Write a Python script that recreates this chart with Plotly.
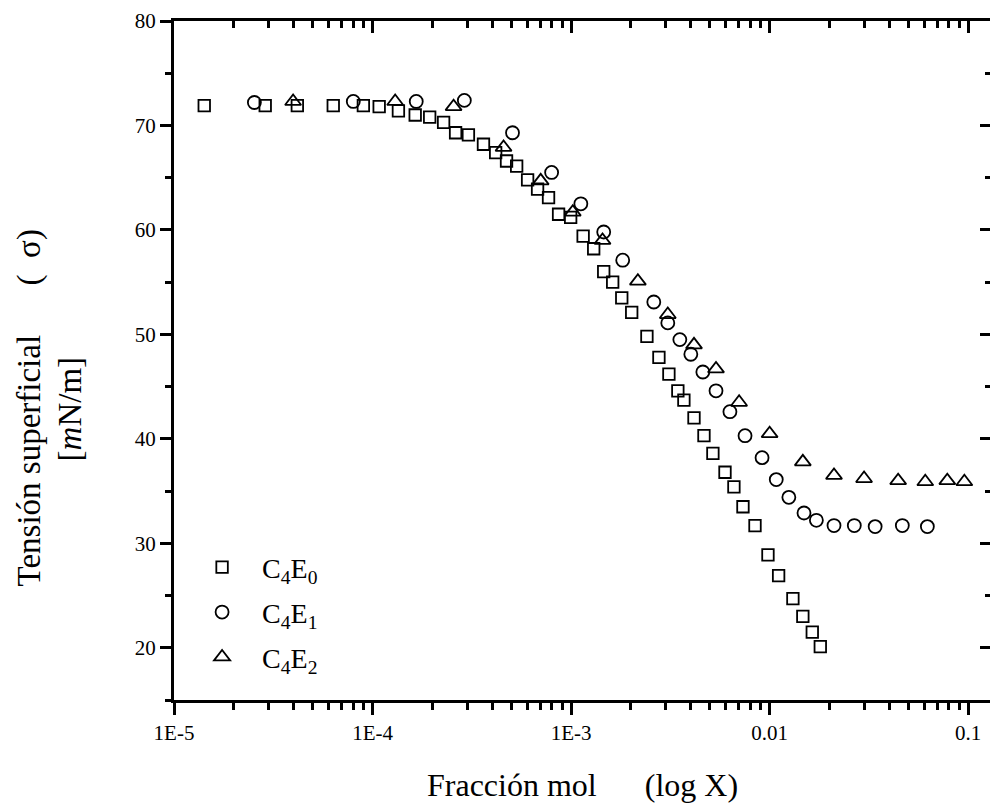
import plotly.graph_objects as go

# ---------------- data ----------------
x_c4e0 = [1.42e-5, 2.88e-5, 4.18e-5, 6.34e-5, 8.99e-5, 1.08e-4, 1.35e-4, 1.64e-4, 1.94e-4, 2.28e-4,
          2.62e-4, 3.04e-4, 3.62e-4, 4.17e-4, 4.73e-4, 5.32e-4, 6.04e-4, 6.78e-4, 7.70e-4, 8.65e-4,
          9.95e-4, 1.15e-3, 1.30e-3, 1.46e-3, 1.62e-3, 1.80e-3, 2.02e-3, 2.41e-3, 2.77e-3, 3.11e-3,
          3.45e-3, 3.70e-3, 4.16e-3, 4.67e-3, 5.18e-3, 5.96e-3, 6.61e-3, 7.34e-3, 8.44e-3, 9.81e-3,
          1.11e-2, 1.31e-2, 1.47e-2, 1.64e-2, 1.80e-2]
y_c4e0 = [71.9, 71.9, 71.9, 71.9, 71.9, 71.8, 71.4, 71.0, 70.8, 70.3,
          69.3, 69.1, 68.2, 67.4, 66.6, 66.1, 64.8, 63.9, 63.1, 61.5,
          61.2, 59.4, 58.2, 56.0, 55.0, 53.5, 52.1, 49.8, 47.8, 46.2,
          44.6, 43.7, 42.0, 40.3, 38.6, 36.8, 35.4, 33.5, 31.7, 28.9,
          26.9, 24.7, 23.0, 21.5, 20.1]

x_c4e1 = [2.54e-5, 8.00e-5, 1.66e-4, 2.90e-4, 5.07e-4, 7.98e-4, 1.12e-3, 1.46e-3, 1.82e-3, 2.61e-3,
          3.07e-3, 3.53e-3, 4.01e-3, 4.61e-3, 5.37e-3, 6.31e-3, 7.52e-3, 9.16e-3, 1.08e-2, 1.25e-2,
          1.49e-2, 1.72e-2, 2.11e-2, 2.67e-2, 3.40e-2, 4.66e-2, 6.23e-2]
y_c4e1 = [72.2, 72.3, 72.3, 72.4, 69.3, 65.5, 62.5, 59.8, 57.1, 53.1,
          51.1, 49.5, 48.1, 46.4, 44.6, 42.6, 40.3, 38.2, 36.1, 34.4,
          32.9, 32.2, 31.7, 31.7, 31.6, 31.7, 31.6]

x_c4e2 = [3.98e-5, 1.30e-4, 2.56e-4, 4.57e-4, 7.03e-4, 1.02e-3, 1.44e-3, 2.17e-3, 3.07e-3, 4.16e-3,
          5.37e-3, 7.02e-3, 1.00e-2, 1.47e-2, 2.11e-2, 2.99e-2, 4.44e-2, 6.08e-2, 7.85e-2, 9.57e-2]
y_c4e2 = [72.3, 72.3, 71.8, 67.9, 64.7, 61.7, 59.0, 55.1, 51.9, 49.0,
          46.7, 43.5, 40.5, 37.8, 36.5, 36.2, 36.0, 35.9, 36.0, 35.9]

series_names = ["C<sub>4</sub>E<sub>0</sub>", "C<sub>4</sub>E<sub>1</sub>", "C<sub>4</sub>E<sub>2</sub>"]
x_tickvals = [1e-5, 1e-4, 1e-3, 1e-2, 1e-1]
x_ticktext = ["1E-5", "1E-4", "1E-3", "0.01", "0.1"]
y_tickvals = [20, 30, 40, 50, 60, 70, 80]

# ---------------- figure ----------------
FONT = "Liberation Serif"
fig = go.Figure()

symbols = ["square-open", "circle-open", "triangle-up-open"]
sizes = [11.5, 13, 14]
# third series sits on the mirrored (top/right) frame axes, which share identical ranges,
# so that plotly renders those axes with their inward ticks
axes_for = [("x", "y"), ("x", "y"), ("x2", "y2")]
for i, (xs, ys) in enumerate([(x_c4e0, y_c4e0), (x_c4e1, y_c4e1), (x_c4e2, y_c4e2)]):
    fig.add_trace(go.Scatter(
        x=xs, y=ys, mode="markers", name=series_names[i], legendgroup=f"g{i}",
        xaxis=axes_for[i][0], yaxis=axes_for[i][1],
        marker=dict(symbol=symbols[i], size=sizes[i], color="black", line=dict(width=1.8, color="black")),
    ))

xr = [-5, -0.89]
yr = [15, 80]
axis_common = dict(showgrid=False, zeroline=False, linecolor="black", linewidth=3,
                   tickcolor="black", tickwidth=2.5)

fig.update_layout(
    width=990, height=806,
    margin=dict(l=174, r=0, t=21, b=106),
    paper_bgcolor="white", plot_bgcolor="white",
    font=dict(family=FONT, color="black"),
    showlegend=True,
    legend=dict(x=0.0099, y=0.232, xanchor="left", yanchor="top",
                font=dict(family=FONT, size=28, color="black"),
                bgcolor="rgba(0,0,0,0)", borderwidth=0, itemwidth=70,
                tracegroupgap=5.5),
    xaxis=dict(type="log", range=xr, tickmode="array", tickvals=x_tickvals, ticktext=x_ticktext,
               ticks="outside", ticklen=12, tickfont=dict(family=FONT, size=21),
               minor=dict(dtick="D1", ticks="outside", ticklen=7, tickwidth=2.5, tickcolor="black", showgrid=False),
               **axis_common),
    yaxis=dict(range=yr, tickmode="array", tickvals=y_tickvals,
               ticks="outside", ticklen=11, tickfont=dict(family=FONT, size=21),
               minor=dict(dtick=5, tick0=0, ticks="outside", ticklen=6, tickwidth=2.5, tickcolor="black", showgrid=False),
               **axis_common),
    xaxis2=dict(type="log", range=xr, overlaying="x", side="top", anchor="y2",
                tickmode="array", tickvals=x_tickvals, showticklabels=False,
                ticks="inside", ticklen=12,
                minor=dict(dtick="D1", ticks="inside", ticklen=7, tickwidth=2.5, tickcolor="black", showgrid=False),
                **axis_common),
    yaxis2=dict(range=yr, overlaying="y", side="right", anchor="x2",
                tickmode="array", tickvals=y_tickvals, showticklabels=False,
                ticks="inside", ticklen=10,
                minor=dict(dtick=5, tick0=0, ticks="inside", ticklen=5, tickwidth=2.5, tickcolor="black", showgrid=False),
                **axis_common),
)

# axis titles as annotations
fig.add_annotation(text="Tensión superficial\u00a0\u00a0\u00a0\u00a0\u00a0\u00a0(\u00a0\u00a0σ)",
                   xref="paper", yref="paper", x=(29 - 174) / 816, y=(700 - 408) / 680,
                   xanchor="center", yanchor="middle", textangle=-90, showarrow=False,
                   font=dict(family=FONT, size=33, color="black"))
fig.add_annotation(text="[<i>m</i>N/m]",
                   xref="paper", yref="paper", x=(70 - 174) / 816, y=(700 - 409) / 680,
                   xanchor="center", yanchor="middle", textangle=-90, showarrow=False,
                   font=dict(family=FONT, size=33, color="black"))
fig.add_annotation(text="Fracción mol\u00a0\u00a0\u00a0\u00a0\u00a0\u00a0(log X)",
                   xref="paper", yref="paper", x=(582 - 174) / 816, y=(700 - 785) / 680,
                   xanchor="center", yanchor="middle", showarrow=False,
                   font=dict(family=FONT, size=32, color="black"))

fig.write_html("out.html", config={"displayModeBar": False},
               post_script="document.body.style.margin='0px';")
